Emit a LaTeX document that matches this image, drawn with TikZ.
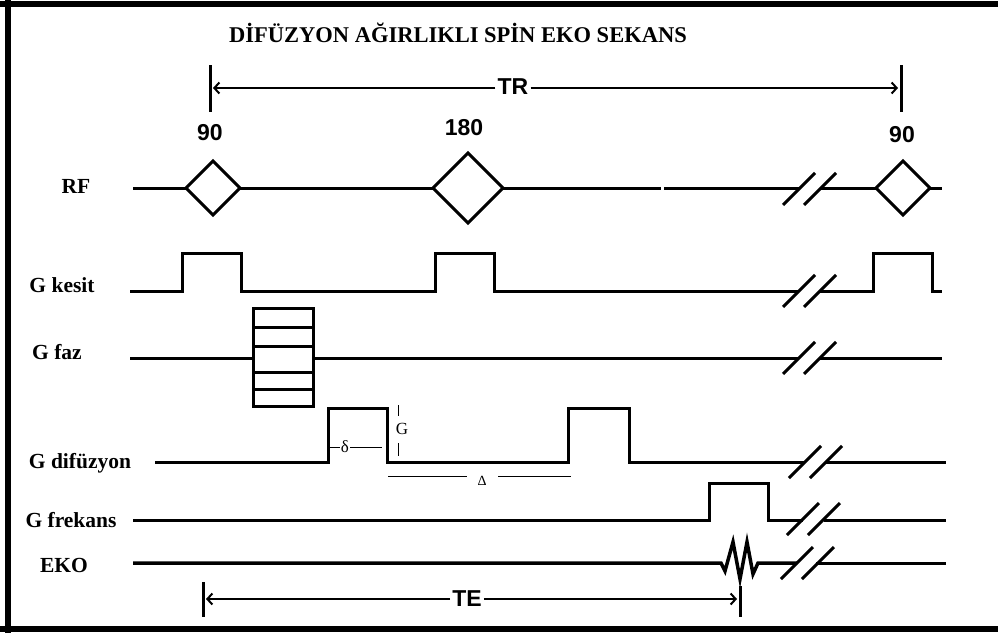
\documentclass[tikz,border=0pt]{standalone}
\usepackage{fontspec}
\setmainfont{Liberation Serif}
\newfontfamily\numfont{Liberation Sans}
\usetikzlibrary{arrows.meta}
\begin{document}
\begin{tikzpicture}[x=1pt,y=-1pt,
  sig/.style={line width=3pt, line join=miter},
  brk/.style={line width=3pt},
  fine/.style={line width=1pt},
  lbl/.style={font=\fontsize{21.5}{21.5}\selectfont\bfseries, inner sep=0pt},
  num/.style={font=\numfont\fontsize{23}{23}\selectfont\bfseries, inner sep=0pt},
  small/.style={font=\fontsize{17}{17}\selectfont, inner sep=1pt},
  dim/.style={line width=2pt, -{Straight Barb[length=5pt,width=11pt]}},
  bar/.style={line width=3pt},
  brkpair/.pic={\draw[brk] (-16,16) -- (16,-16); \draw[brk] (5,16) -- (37,-16);}
]
\useasboundingbox (0,0) rectangle (998,633);
\fill[white] (0,0) rectangle (998,633);
% frame
\draw[line width=6pt] (0,4) -- (998,4);
\draw[line width=6pt] (0,629) -- (998,629);
\draw[line width=6pt] (8,0) -- (8,633);

% title
\node[font=\fontsize{22.5}{22.5}\selectfont\bfseries, inner sep=0pt] (title) at (458,33) {DİFÜZYON AĞIRLIKLI SPİN EKO SEKANS};

% TR
\draw[bar] (210,65) -- (210,112);
\draw[bar] (901,65) -- (901,112);
\coordinate (trL) at (213,88);
\coordinate (trR) at (898,88);
\node[num, inner sep=2pt] (tr) at (513,87) {TR};
\draw[dim] (tr.west |- trL) -- (trL);
\draw[dim] (tr.east |- trR) -- (trR);

% pulse labels
\node[num] (n90a) at (210,133) {90};
\node[num] (n180) at (464,128) {180};
\node[num] (n90b) at (902,135) {90};

% row labels
\node[lbl] (lrf) at (76,186) {RF};
\node[lbl] (lkes) at (62,285) {G kesit};
\node[lbl] (lfaz) at (57,352) {G faz};
\node[lbl] (ldif) at (80,463) {G difüzyon};
\node[lbl] (lfre) at (71,520) {G frekans};
\node[lbl] (leko) at (64,565) {EKO};

% RF
\draw[sig] (133,188) -- (186,188);
\draw[sig] (186,188) -- (213,161) -- (240,188) -- (213,215) -- cycle;
\draw[sig] (240,188) -- (433,188);
\draw[sig] (433,188) -- (468,153) -- (503,188) -- (468,223) -- cycle;
\draw[sig] (503,188) -- (661,188);
\draw[sig] (664,188) -- (799,188);
\pic at (799,189) {brkpair};
\draw[sig] (820,188) -- (876,188);
\draw[sig] (876,188) -- (903,161) -- (930,188) -- (903,215) -- cycle;
\draw[sig] (930,188) -- (942,188);

% G kesit
\draw[sig] (130,291) -- (182,291) -- (182,253) -- (241,253) -- (241,291) -- (435,291) -- (435,253) -- (494,253) -- (494,291) -- (799,291);
\pic at (799,291) {brkpair};
\draw[sig] (820,291) -- (873,291) -- (873,253) -- (932,253) -- (932,291) -- (942,291);

% G faz
\draw[sig] (130,358) -- (253,358);
\draw[sig] (253,308) rectangle (313,406);
\foreach \yy in {327,346,372,389} \draw[sig] (253,\yy) -- (313,\yy);
\draw[sig] (313,358) -- (799,358);
\pic at (799,358) {brkpair};
\draw[sig] (820,358) -- (942,358);

% G difuzyon
\draw[sig] (155,462) -- (328,462) -- (328,408) -- (387,408) -- (387,462) -- (568,462) -- (568,408) -- (629,408) -- (629,462) -- (805,462);
\pic at (805,462) {brkpair};
\draw[sig] (826,462) -- (946,462);
% delta annotation
\node[small] (dl) at (345,447) {δ};
\draw[fine] (330,447) -- (dl.west);
\draw[fine] (dl.east) -- (382,447);
\node[small] (gg) at (402,429) {G};
\draw[fine] (398,405) -- (398,416);
\draw[fine] (398,443) -- (398,456);
\node[font=\fontsize{14}{14}\selectfont, inner sep=1pt] (DD) at (482,481) {Δ};
\draw[fine] (388,476) -- (467,476);
\draw[fine] (498,476) -- (571,476);

% G frekans
\draw[sig] (133,520) -- (709,520) -- (709,483) -- (768,483) -- (768,520) -- (803,520);
\pic at (803,519) {brkpair};
\draw[sig] (824,520) -- (946,520);

% EKO
\draw[sig, line width=3.5pt] (133,563) -- (721,563) -- (725,571) -- (733,542) -- (740,579) -- (747,542) -- (753,574) -- (758,563) -- (797,563);
\pic at (797,563) {brkpair};
\draw[sig] (816,563) -- (946,563);

% TE
\draw[bar] (203,582) -- (203,617);
\draw[bar] (740,586) -- (740,617);
\coordinate (teL) at (206,599);
\coordinate (teR) at (737,599);
\node[num, inner sep=2pt] (te) at (467,599) {TE};
\draw[dim] (te.west |- teL) -- (teL);
\draw[dim] (te.east |- teR) -- (teR);
\end{tikzpicture}
\end{document}
